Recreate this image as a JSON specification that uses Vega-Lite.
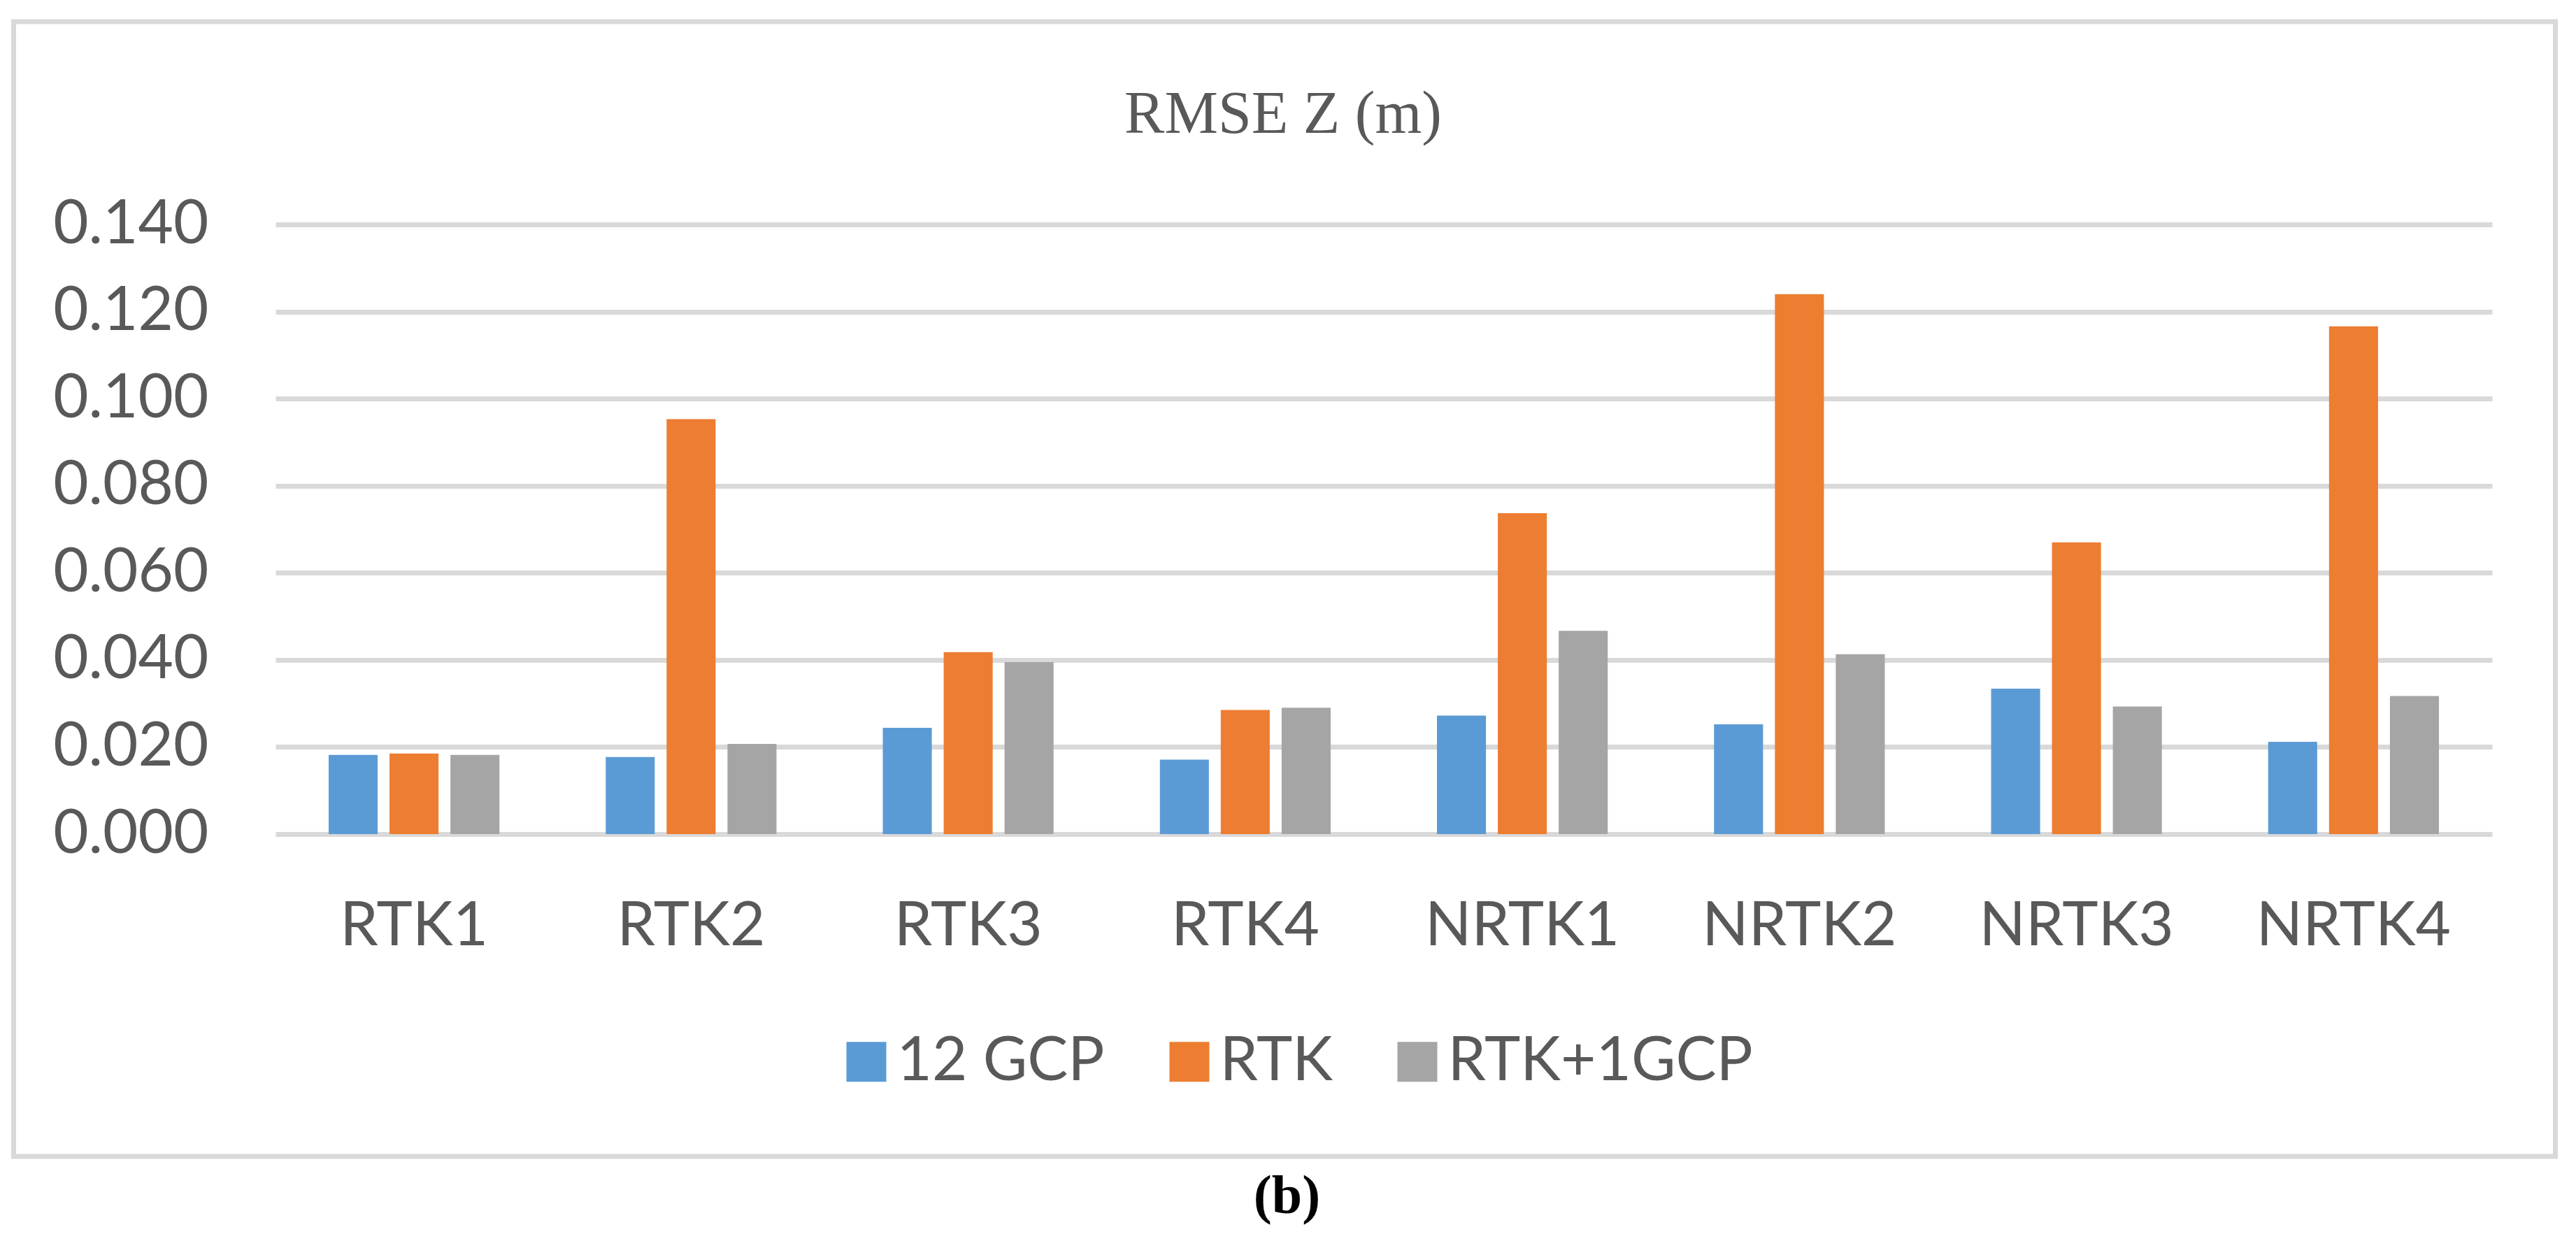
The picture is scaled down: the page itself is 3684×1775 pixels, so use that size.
{
  "$schema": "https://vega.github.io/schema/vega-lite/v6.json",
  "width": 3635,
  "height": 1623,
  "autosize": {"type": "none"},
  "padding": {"left": 19.5, "top": 31, "right": 29.5, "bottom": 121},
  "background": "white",
  "title": {
    "text": "RMSE Z (m)",
    "anchor": "middle",
    "frame": "group",
    "orient": "top",
    "offset": -245,
    "baseline": "alphabetic",
    "font": "Liberation Serif",
    "fontSize": 86,
    "fontWeight": "normal",
    "color": "#595959",
    "dx": -2
  },
  "data": {
    "values": [
      {"site": "RTK1", "method": "12 GCP", "rmse": 0.0182},
      {"site": "RTK1", "method": "RTK", "rmse": 0.0185},
      {"site": "RTK1", "method": "RTK+1GCP", "rmse": 0.0182},
      {"site": "RTK2", "method": "12 GCP", "rmse": 0.0177},
      {"site": "RTK2", "method": "RTK", "rmse": 0.0953},
      {"site": "RTK2", "method": "RTK+1GCP", "rmse": 0.0207},
      {"site": "RTK3", "method": "12 GCP", "rmse": 0.0244},
      {"site": "RTK3", "method": "RTK", "rmse": 0.0418},
      {"site": "RTK3", "method": "RTK+1GCP", "rmse": 0.0395},
      {"site": "RTK4", "method": "12 GCP", "rmse": 0.0171},
      {"site": "RTK4", "method": "RTK", "rmse": 0.0285},
      {"site": "RTK4", "method": "RTK+1GCP", "rmse": 0.029},
      {"site": "NRTK1", "method": "12 GCP", "rmse": 0.0272},
      {"site": "NRTK1", "method": "RTK", "rmse": 0.0737},
      {"site": "NRTK1", "method": "RTK+1GCP", "rmse": 0.0467},
      {"site": "NRTK2", "method": "12 GCP", "rmse": 0.0252},
      {"site": "NRTK2", "method": "RTK", "rmse": 0.124},
      {"site": "NRTK2", "method": "RTK+1GCP", "rmse": 0.0413},
      {"site": "NRTK3", "method": "12 GCP", "rmse": 0.0334},
      {"site": "NRTK3", "method": "RTK", "rmse": 0.067},
      {"site": "NRTK3", "method": "RTK+1GCP", "rmse": 0.0293},
      {"site": "NRTK4", "method": "12 GCP", "rmse": 0.0212},
      {"site": "NRTK4", "method": "RTK", "rmse": 0.1166},
      {"site": "NRTK4", "method": "RTK+1GCP", "rmse": 0.0317}
    ]
  },
  "mark": {"type": "bar"},
  "encoding": {
    "x": {
      "field": "site",
      "type": "nominal",
      "sort": null,
      "scale": {
        "domain": ["RTK1", "RTK2", "RTK3", "RTK4", "NRTK1", "NRTK2", "NRTK3", "NRTK4"],
        "range": [374.5, 3544.5],
        "paddingInner": 0,
        "paddingOuter": 0
      },
      "axis": {
        "title": "(b)",
        "domain": false,
        "ticks": false,
        "tickSize": 0,
        "grid": false,
        "labelAngle": 0,
        "labelPadding": -303,
        "labelBaseline": "alphabetic",
        "labelFont": "Lato",
        "labelFontSize": 87,
        "labelColor": "#595959",
        "labelLimit": 0,
        "labelOverlap": false,
        "labelFlush": false,
        "titleFont": "Liberation Serif",
        "titleFontSize": 78,
        "titleFontWeight": "bold",
        "titleColor": "#000000",
        "titleX": 1820.5,
        "titleY": 80,
        "titleAlign": "center",
        "titleBaseline": "alphabetic"
      }
    },
    "xOffset": {
      "field": "method",
      "type": "nominal",
      "sort": null,
      "scale": {
        "domain": ["12 GCP", "RTK", "RTK+1GCP"],
        "paddingInner": 0.195,
        "paddingOuter": 0.873
      }
    },
    "y": {
      "field": "rmse",
      "type": "quantitative",
      "stack": null,
      "scale": {"domain": [0, 0.14], "range": [1162, 290], "nice": false, "zero": false},
      "axis": {
        "title": null,
        "values": [0, 0.02, 0.04, 0.06, 0.08, 0.1, 0.12, 0.14],
        "format": ".3f",
        "grid": true,
        "gridColor": "#d9d9d9",
        "gridWidth": 7,
        "gridOpacity": 1,
        "domain": false,
        "ticks": false,
        "tickSize": 0,
        "labelPadding": -278.5,
        "labelAlign": "right",
        "labelBaseline": "middle",
        "labelFont": "Lato",
        "labelFontSize": 87,
        "labelColor": "#595959",
        "labelLimit": 0,
        "labelOverlap": false,
        "labelFlush": false
      }
    },
    "color": {
      "field": "method",
      "type": "nominal",
      "sort": null,
      "scale": {
        "domain": ["12 GCP", "RTK", "RTK+1GCP"],
        "range": ["#5B9BD5", "#ED7D31", "#A5A5A5"]
      },
      "legend": {
        "orient": "none",
        "legendX": 1176,
        "legendY": 1444,
        "direction": "horizontal",
        "title": null,
        "symbolType": "square",
        "symbolSize": 3249,
        "symbolStrokeWidth": 0,
        "symbolOpacity": 1,
        "labelFont": "Lato",
        "labelFontSize": 87,
        "labelColor": "#595959",
        "labelOffset": 0,
        "labelLimit": 0,
        "columnPadding": 77,
        "padding": 0
      }
    }
  },
  "config": {
    "view": {"stroke": "#d9d9d9", "strokeWidth": 7}
  }
}
